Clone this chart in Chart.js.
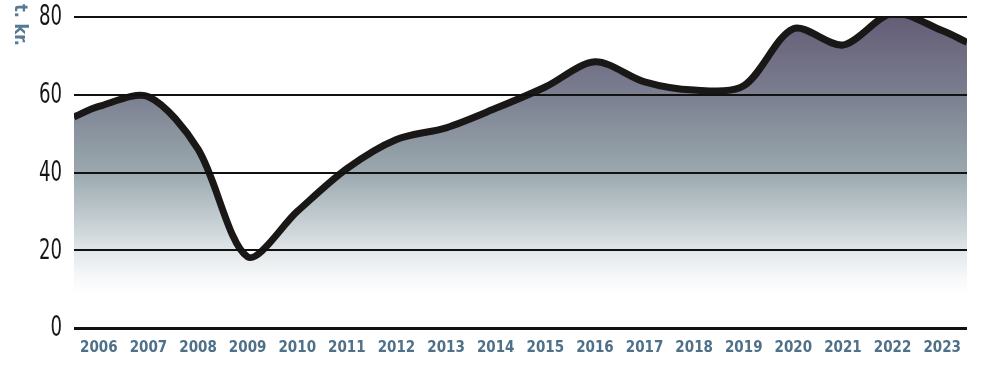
<!DOCTYPE html>
<html>
<head>
<meta charset="utf-8">
<script src="https://cdn.jsdelivr.net/npm/chart.js@4"></script>
<style>
  html, body { margin: 0; padding: 0; background: #fff; }
  #wrap { width: 982px; height: 370px; }
</style>
</head>
<body>
<div id="wrap"><canvas id="omsetning"></canvas></div>
<script>
// år og verdier (t. kr.), lest av figuren
const years = [2006, 2007, 2008, 2009, 2010, 2011, 2012, 2013, 2014, 2015, 2016, 2017, 2018, 2019, 2020, 2021, 2022, 2023];
const values = [57, 59.5, 46, 18.3, 30, 41, 48.5, 51.5, 56.5, 62, 68.5, 63.3, 61.2, 62.3, 77, 72.8, 81, 76.5];
// kurven fortsetter ut til kantene av plottet
const edgeStart = 54.3;
const edgeEnd = 73.5;
const yTicks = [0, 20, 40, 60, 80];

const points = [{ x: years[0] - 0.5, y: edgeStart }]
  .concat(years.map((yr, i) => ({ x: yr, y: values[i] })))
  .concat([{ x: years[years.length - 1] + 0.5, y: edgeEnd }]);

function fillGradient(context) {
  const area = context.chart.chartArea;
  if (!area) return '#8a93a0';
  const c = context.chart.ctx;
  const g = c.createLinearGradient(0, area.top, 0, area.bottom);
  g.addColorStop(0.0, '#645d76');
  g.addColorStop(0.25, '#7b7f90');
  g.addColorStop(0.5, '#9aa9ae');
  g.addColorStop(0.68, '#ccd4d8');
  g.addColorStop(0.76, '#e4e9eb');
  g.addColorStop(0.84, '#f7f8f9');
  g.addColorStop(0.89, '#ffffff');
  g.addColorStop(1.0, '#ffffff');
  return g;
}

// y-tallene er smale og høye i originalen, tegnes sammenpresset
const yLabels = {
  id: 'yLabels',
  afterDraw(chart) {
    const c = chart.ctx;
    const y = chart.scales.y;
    c.save();
    c.fillStyle = '#161616';
    c.font = '28px "DejaVu Sans Condensed", "DejaVu Sans", sans-serif';
    c.textAlign = 'right';
    c.textBaseline = 'middle';
    yTicks.forEach(v => {
      c.save();
      c.translate(62, y.getPixelForValue(v) + 1);
      c.scale(0.72, 1);
      c.fillText(String(v), 0, 0);
      c.restore();
    });
    c.restore();

    // "t. kr." står loddrett, lest ovenfra og ned
    c.save();
    c.translate(11, 4);
    c.rotate(Math.PI / 2);
    c.fillStyle = '#567a93';
    c.font = 'bold 18px "DejaVu Sans Condensed", "DejaVu Sans", sans-serif';
    c.textAlign = 'left';
    c.textBaseline = 'bottom';
    c.fillText('t. kr.', 0, 0);
    c.restore();
  }
};

new Chart(document.getElementById('omsetning'), {
  type: 'line',
  data: {
    datasets: [{
      data: points,
      borderColor: '#1a1817',
      borderWidth: 7,
      tension: 0.3,
      pointRadius: 0,
      fill: 'origin',
      backgroundColor: fillGradient,
      clip: 0
    }]
  },
  options: {
    responsive: true,
    maintainAspectRatio: false,
    animation: false,
    layout: { padding: { top: 17, right: 15, bottom: 0, left: 0 } },
    plugins: {
      legend: { display: false },
      tooltip: { enabled: false }
    },
    scales: {
      x: {
        type: 'linear',
        min: years[0] - 0.5,
        max: years[years.length - 1] + 0.5,
        afterBuildTicks: (axis) => { axis.ticks = years.map(v => ({ value: v })); },
        afterFit: (axis) => { axis.height = 42; },
        grid: { display: false, drawTicks: false },
        border: { display: false },
        ticks: {
          autoSkip: false,
          maxRotation: 0,
          padding: 11,
          color: '#4f7089',
          font: { family: '"DejaVu Sans Condensed", "DejaVu Sans", sans-serif', size: 15, weight: 'bold' },
          callback: (v) => String(v)
        }
      },
      y: {
        min: 0,
        max: 80,
        afterBuildTicks: (axis) => { axis.ticks = yTicks.map(v => ({ value: v })); },
        afterFit: (axis) => { axis.width = 74; },
        border: { display: false },
        grid: {
          z: 1, // rutenettet ligger over fyllet
          color: '#111111',
          lineWidth: (ctx) => (ctx.tick && ctx.tick.value === 0 ? 3 : 2),
          drawTicks: false
        },
        ticks: { display: false }
      }
    }
  },
  plugins: [yLabels]
});
</script>
</body>
</html>
